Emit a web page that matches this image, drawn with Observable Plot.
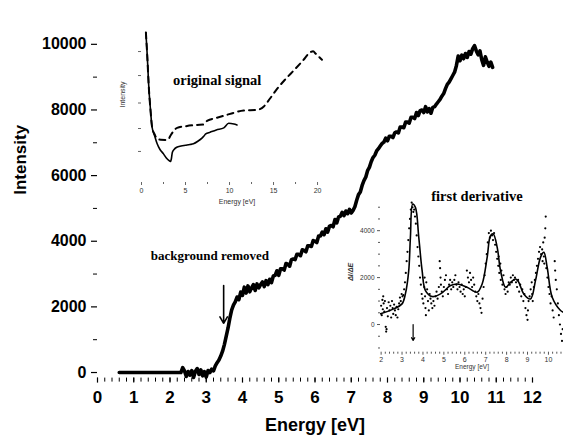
<!DOCTYPE html>
<html><head><meta charset="utf-8">
<script src="https://cdn.jsdelivr.net/npm/d3@7"></script>
<script src="https://cdn.jsdelivr.net/npm/@observablehq/plot@0.6"></script>
<style>
body{margin:0;background:#fff}
#wrap{position:relative;width:563px;height:440px;overflow:hidden}
#wrap svg{position:absolute;overflow:visible}
</style>
</head><body><div id="wrap"></div>
<script>
// ---- main spectrum (background removed) ----
const mainEnergy = [0.6,2.3,2.35,2.4,2.45,2.5,2.55,2.6,2.65,2.7,2.75,2.8,2.85,2.9,2.95,3.0,3.05,3.1,3.15,3.2,3.25,3.3,3.35,3.4,3.45,3.5,3.55,3.6,3.65,3.7,3.75,3.8,3.85,3.9,3.95,4.0,4.05,4.1,4.15,4.2,4.25,4.3,4.35,4.4,4.45,4.5,4.55,4.6,4.65,4.7,4.75,4.8,4.85,4.9,4.95,5.0,5.05,5.1,5.15,5.2,5.25,5.3,5.35,5.4,5.45,5.5,5.55,5.6,5.65,5.7,5.75,5.8,5.85,5.9,5.95,6.0,6.05,6.1,6.15,6.2,6.25,6.3,6.35,6.4,6.45,6.5,6.55,6.6,6.65,6.7,6.75,6.8,6.85,6.9,6.95,7.0,7.05,7.1,7.15,7.2,7.25,7.3,7.35,7.4,7.45,7.5,7.55,7.6,7.65,7.7,7.75,7.8,7.85,7.9,7.95,8.0,8.05,8.1,8.15,8.2,8.25,8.3,8.35,8.4,8.45,8.5,8.55,8.6,8.65,8.7,8.75,8.8,8.85,8.9,8.95,9.0,9.05,9.1,9.15,9.2,9.25,9.3,9.35,9.4,9.45,9.5,9.55,9.6,9.65,9.7,9.75,9.8,9.85,9.9,9.95,10.0,10.05,10.1,10.15,10.2,10.25,10.3,10.35,10.4,10.45,10.5,10.55,10.6,10.65,10.7,10.75,10.8,10.85,10.9];
const mainIntensity = [0,0,150,50,-120,30,-80,60,-150,40,120,-60,80,-100,30,-140,60,0,100,50,200,300,380,500,650,850,1100,1350,1650,1900,2050,2150,2300,2220,2450,2350,2600,2420,2640,2460,2580,2680,2500,2700,2580,2680,2760,2620,2800,2680,2840,2740,2940,2960,3100,2960,3160,3160,3120,3320,3300,3240,3440,3460,3440,3600,3600,3560,3740,3720,3680,3860,3860,3840,4020,4000,3960,4160,4160,4280,4200,4380,4280,4460,4480,4440,4660,4560,4740,4760,4880,4780,4920,4840,4970,4860,4940,5050,5250,5420,5500,5700,5850,5950,6150,6250,6420,6550,6620,6750,6820,6900,6980,7020,7140,7060,7200,7200,7160,7300,7330,7300,7480,7480,7460,7630,7630,7600,7780,7780,7740,7920,7830,7980,8000,7920,8100,7940,8040,7900,8080,8100,8180,8250,8320,8420,8500,8650,8780,8850,8950,9050,9150,9350,9640,9500,9670,9560,9720,9600,9780,9700,9870,9960,9800,9680,9800,9530,9360,9620,9460,9330,9460,9300];
const mainXTicks = [0,1,2,3,4,5,6,7,8,9,10,11,12];
const mainYTicks = [0,2000,4000,6000,8000,10000];
const mainYMinor = [1000,3000,5000,7000,9000];
const mainArrow = [{x1:3.48,y1:2650,x2:3.48,y2:1500}];
const mainNote = [{x:3.1,y:3567,text:"background removed"}];

// ---- inset: original signal ----
const origSolidE = [0.5,0.65,0.83,1.0,1.2,1.5,1.78,2.1,2.5,2.8,3.1,3.3,3.4,3.5,3.7,4.0,4.5,5.0,5.5,5.9,6.4,6.9,7.1,7.3,7.8,8.5,9.35,9.9,10.5,10.85];
const origSolidV = [100,85,63.5,50,37,31,25.8,22,19.1,16.5,14.7,14,16,20,22,23.5,24.3,24.8,25.3,25.8,27.5,29.8,31,32.4,33.5,35,36.4,39.5,39,38.4];
const origDashE = [0.5,0.65,0.83,1.0,1.2,1.5,1.78,2.2,2.7,3.0,3.3,3.6,4.05,5.0,6.3,7.0,7.5,8.5,9.7,10.5,11.6,13.1,13.9,14.6,15.4,16.3,17.3,18.3,19.2,19.5,19.8,20.5];
const origDashV = [100,85,63.5,50,37,32,29.1,28.5,28.4,28.5,31.3,34,36.4,37.5,38.4,38.6,41.3,43,45.1,46.5,48,48.4,50.7,56,62.4,68.5,74.7,81,86.9,87.5,85.8,81.8];
const origXTicks = [0,5,10,15,20];
const origXMinor = [2.5,7.5,12.5,17.5];
const origYTicks = [20.7,36,53,71.3,87.3];
const origNote = [{x:8.6,y:68,text:"original signal"}];

// ---- inset: first derivative ----
const derivFitE = [1.97,2.6,3.0,3.16,3.32,3.4,3.51,3.64,3.8,3.96,4.12,4.44,4.84,5.32,5.64,6.11,6.59,6.83,7.07,7.23,7.36,7.55,7.71,7.95,8.19,8.43,8.58,8.82,9.14,9.38,9.62,9.78,9.94,10.18,10.58,10.72];
const derivFitV = [455,668,880,1305,2298,3716,5135,4993,3716,2298,1447,1191,1305,1660,1730,1589,1376,1730,2865,3787,3858,3290,2298,1589,1801,1943,1801,1305,1092,1872,2865,3077,2440,1163,596,520];
const derivDotE = [2.00,2.03,2.06,2.08,2.10,2.12,2.15,2.18,2.22,2.24,2.26,2.28,2.32,2.36,2.40,2.44,2.48,2.52,2.55,2.58,2.62,2.66,2.70,2.74,2.78,2.82,2.86,2.90,2.94,2.98,3.02,3.06,3.10,3.14,3.18,3.22,3.26,3.30,3.34,3.38,3.42,3.46,3.50,3.54,3.58,3.62,3.66,3.70,3.74,3.78,3.82,3.86,3.90,3.94,3.98,4.02,4.06,4.08,4.10,4.12,4.14,4.16,4.20,4.24,4.28,4.32,4.36,4.40,4.45,4.50,4.55,4.60,4.65,4.70,4.76,4.80,4.82,4.84,4.86,4.90,4.95,5.00,5.05,5.10,5.15,5.20,5.25,5.30,5.35,5.40,5.45,5.50,5.55,5.60,5.65,5.70,5.75,5.80,5.85,5.90,5.95,6.00,6.05,6.10,6.15,6.20,6.25,6.30,6.35,6.40,6.45,6.50,6.55,6.60,6.65,6.70,6.75,6.80,6.85,6.90,6.95,7.00,7.05,7.10,7.15,7.20,7.25,7.30,7.35,7.40,7.45,7.50,7.55,7.60,7.62,7.65,7.70,7.72,7.75,7.80,7.85,7.90,7.95,8.00,8.05,8.10,8.15,8.20,8.25,8.30,8.35,8.40,8.45,8.50,8.55,8.60,8.65,8.70,8.75,8.80,8.85,8.90,8.95,9.00,9.02,9.05,9.10,9.15,9.20,9.22,9.25,9.30,9.35,9.40,9.45,9.50,9.55,9.60,9.65,9.70,9.72,9.75,9.78,9.80,9.82,9.85,9.87,9.90,9.95,10.00,10.05,10.10,10.15,10.20,10.25,10.30,10.32,10.35,10.40,10.45,10.50,10.55,10.60,10.65,10.68];
const derivDotV = [800,400,1050,650,1200,900,550,1000,-100,-300,-200,700,350,950,600,800,300,1000,700,450,850,600,400,750,300,650,900,1150,1000,1300,1200,1250,1500,1800,2200,2700,3100,3600,4100,4500,4900,5200,5000,4800,4900,4600,4300,3800,3300,2900,2500,2000,1700,1300,1100,900,1600,2000,1200,700,400,1800,1500,1000,600,1300,1100,900,700,1000,800,1200,1400,1100,1600,2700,2400,2000,1700,1400,1200,1600,1900,2100,1500,1300,1700,1900,1500,1800,1600,1900,2100,1700,1500,1800,1600,1400,1700,1300,1500,1200,1600,2300,2000,1800,2200,1900,1600,2000,1700,1400,1200,1000,1300,900,700,500,1100,1600,2100,2600,3000,3500,3900,3700,4000,3800,3600,3900,3400,3100,2800,2500,2900,2200,2600,1900,2300,1700,2100,1500,1300,1600,1400,1800,1700,2000,1800,2100,1900,2000,1800,1600,1900,1400,1700,1200,1500,1000,1300,700,400,200,600,1000,1200,1500,1800,1300,1000,1600,1900,2200,2500,2800,3100,3300,3000,3200,2700,3500,2900,2600,3700,4100,4600,2400,2000,1600,1300,900,1200,600,300,2700,2300,1900,1500,900,400,0,-400,-700,-200];
const derivXTicks = [2,3,4,5,6,7,8,9,10];
const derivXMinor = [2.2,2.4,2.6,2.8,3.2,3.4,3.6,3.8,4.2,4.4,4.6,4.8,5.2,5.4,5.6,5.8,6.2,6.4,6.6,6.8,7.2,7.4,7.6,7.8,8.2,8.4,8.6,8.8,9.2,9.4,9.6,9.8,10.2,10.4,10.6];
const derivYTicks = [0,2000,4000];
const derivYMinor = [-1000,-500,500,1000,1500,2500,3000,3500,4500,5000];
const derivArrow = [{x1:3.53,y1:0,x2:3.53,y2:-680}];
const derivNote = [{x:6.58,y:5446,text:"first derivative"}];

const pts = (xs, ys) => xs.map((x, i) => ({x, y: ys[i]}));
const SANS = "Liberation Sans, Arial, sans-serif";
const SERIF = "Liberation Serif, Times New Roman, serif";
const plain = d3.format("d");
const wrap = document.getElementById("wrap");

// main chart
const main = Plot.plot({
  width: 563, height: 440,
  marginLeft: 97, marginRight: 31, marginTop: 11, marginBottom: 62.4,
  x: {domain: [0, 12]},
  y: {domain: [-170, 11000]},
  style: {fontFamily: SANS, color: "black", background: "transparent"},
  marks: [
    Plot.axisX({ticks: mainXTicks, tickFormat: plain, tickSize: 5, tickPadding: 8, fontSize: 17, fontWeight: "bold", line: true, label: null, strokeWidth: 1.2}),
    Plot.axisX({ticks: d3.range(0, 12.01, 0.2).map(v => +v.toFixed(1)), tickSize: 4, tickFormat: () => "", label: null}),
    Plot.axisY({ticks: mainYTicks, tickFormat: plain, tickSize: 6, tickPadding: 5, fontSize: 16, fontWeight: "bold", line: true, label: null, strokeWidth: 1.2}),
    Plot.axisY({ticks: mainYMinor, tickSize: 4, tickFormat: () => "", label: null}),
    Plot.line(pts(mainEnergy, mainIntensity), {x: "x", y: "y", stroke: "black", strokeWidth: 3.6, strokeLinejoin: "round"}),
    Plot.arrow(mainArrow, {x1: "x1", y1: "y1", x2: "x2", y2: "y2", stroke: "black", strokeWidth: 1.6, headLength: 7}),
    Plot.text(mainNote, {x: "x", y: "y", text: "text", fontFamily: SERIF, fontWeight: "bold", fontSize: 13}),
    Plot.text(["Energy [eV]"], {frameAnchor: "bottom", dy: 53, fontSize: 18, fontWeight: "bold"}),
    Plot.text(["Intensity"], {frameAnchor: "left", dx: -77, rotate: -90, fontSize: 17, fontWeight: "bold"})
  ]
});
main.style.left = "0px"; main.style.top = "0px";
wrap.appendChild(main);

// inset 1: original signal
const inset1 = Plot.plot({
  width: 240, height: 200,
  marginLeft: 31, marginRight: 18, marginTop: 12, marginBottom: 38,
  x: {domain: [0, 21.7]},
  y: {domain: [0, 100]},
  style: {fontFamily: SANS, color: "#333", background: "transparent"},
  marks: [
    Plot.axisX({ticks: origXTicks, tickFormat: plain, tickSize: 3, tickPadding: 3, fontSize: 7, line: true, label: null, stroke: "#666"}),
    Plot.axisX({ticks: origXMinor, tickSize: 2, tickFormat: () => "", label: null, stroke: "#666"}),
    Plot.axisY({ticks: origYTicks, tickSize: 3, tickFormat: () => "", line: true, label: null, stroke: "#666"}),
    Plot.line(pts(origSolidE, origSolidV), {x: "x", y: "y", stroke: "black", strokeWidth: 1.6, curve: "monotone-x"}),
    Plot.line(pts(origDashE, origDashV), {x: "x", y: "y", stroke: "black", strokeWidth: 2, strokeDasharray: "6,5", curve: "monotone-x"}),
    Plot.text(origNote, {x: "x", y: "y", text: "text", fontFamily: SERIF, fontWeight: "bold", fontSize: 14.5, fill: "black"}),
    Plot.text(["Energy [eV]"], {frameAnchor: "bottom", dy: 21, fontSize: 7}),
    Plot.text(["Intensity"], {frameAnchor: "left", dx: -19, rotate: -90, fontSize: 7})
  ]
});
inset1.style.left = "110px"; inset1.style.top = "20px";
wrap.appendChild(inset1);

// inset 2: first derivative
const inset2 = Plot.plot({
  width: 233, height: 205,
  marginLeft: 50, marginRight: 0, marginTop: 25, marginBottom: 23.3,
  x: {domain: [1.97, 10.72]},
  y: {domain: [-1180, 5500]},
  style: {fontFamily: SANS, color: "#333", background: "transparent"},
  marks: [
    Plot.axisX({ticks: derivXTicks, tickFormat: plain, tickSize: 3, tickPadding: 2, fontSize: 7, line: true, label: null, stroke: "#555"}),
    Plot.axisX({ticks: derivXMinor, tickSize: 2, tickFormat: () => "", label: null, stroke: "#555"}),
    Plot.axisY({ticks: derivYTicks, tickFormat: plain, tickSize: 3, tickPadding: 3, fontSize: 6.5, line: true, label: null, stroke: "#555"}),
    Plot.axisY({ticks: derivYMinor, tickSize: 2, tickFormat: () => "", label: null, stroke: "#555"}),
    Plot.dot(pts(derivDotE, derivDotV), {x: "x", y: "y", r: 1.1, fill: "black", stroke: "none"}),
    Plot.line(pts(derivFitE, derivFitV), {x: "x", y: "y", stroke: "black", strokeWidth: 1.6, curve: "catmull-rom", clip: true}),
    Plot.arrow(derivArrow, {x1: "x1", y1: "y1", x2: "x2", y2: "y2", stroke: "black", strokeWidth: 1.2, headLength: 4}),
    Plot.text(derivNote, {x: "x", y: "y", text: "text", fontFamily: SERIF, fontWeight: "bold", fontSize: 14.5, fill: "black"}),
    Plot.text(["Energy [eV]"], {frameAnchor: "bottom", dy: 17, fontSize: 6.5}),
    Plot.text(["ΔI/ΔE"], {frameAnchor: "left", dx: -30, dy: 7, rotate: -90, fontSize: 7, fontWeight: "bold", fontStyle: "italic"})
  ]
});
inset2.style.left = "330px"; inset2.style.top = "170px";
wrap.appendChild(inset2);
</script>
</body></html>
